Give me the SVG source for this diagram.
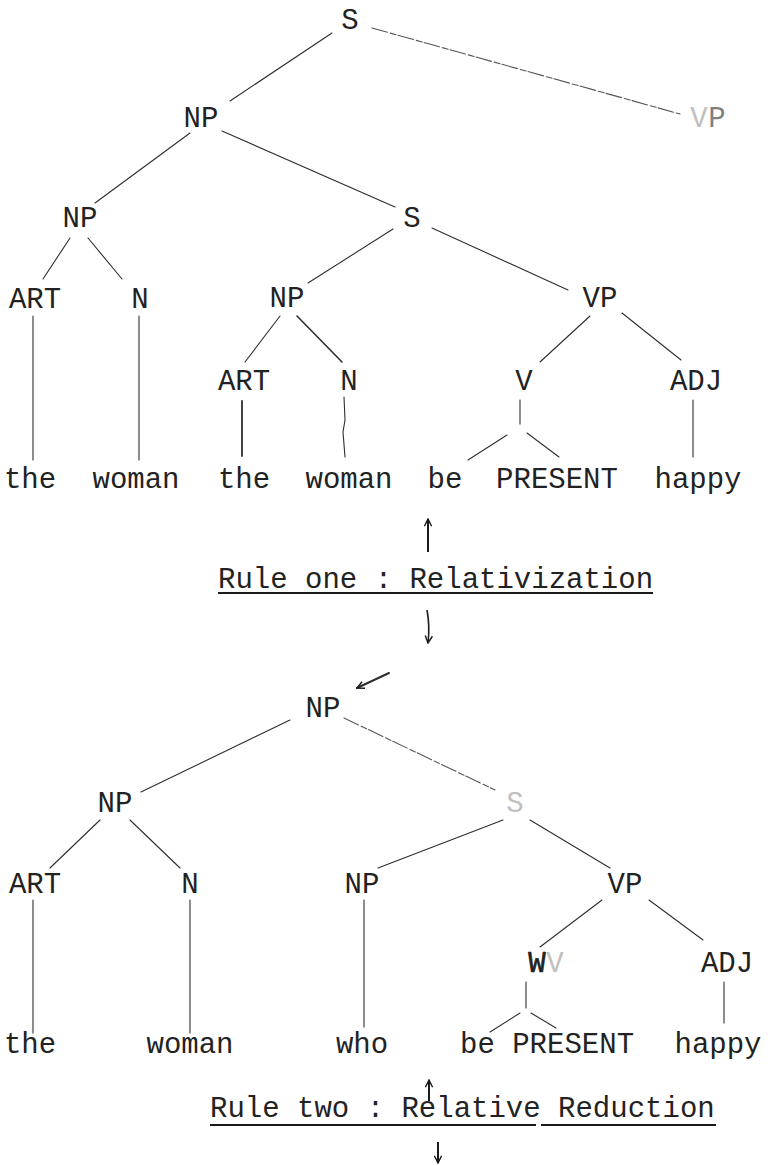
<svg xmlns="http://www.w3.org/2000/svg" width="773" height="1166" viewBox="0 0 773 1166">
  <defs>
    <style>
      text { font-family: "Liberation Mono", "DejaVu Sans Mono", monospace; font-size: 29px; fill: #222; text-anchor: middle; }
      text.start { text-anchor: start; }
      text.faint { fill: #c0c0c0; }
      text.mid { fill: #808080; }
      .edges line, .edges path { stroke: #2e2e2e; stroke-width: 1.1; fill: none; stroke-linecap: round; }
      .edges .light { stroke: #555; stroke-dasharray: 16 3 6 2; }
      .rule line { stroke: #1a1a1a; stroke-width: 2; }
      .arrow { stroke: #1a1a1a; stroke-width: 1.6; fill: none; }
    </style>
    <marker id="head" viewBox="0 0 10 10" refX="9" refY="5" markerWidth="9" markerHeight="9" orient="auto-start-reverse" markerUnits="userSpaceOnUse">
      <path d="M1,1 L9,5 L1,9" fill="none" stroke="#1a1a1a" stroke-width="1.6"/>
    </marker>
  </defs>
  <rect width="773" height="1166" fill="#ffffff"/>

  <!-- upper tree: connectors -->
  <g class="edges" id="edges-upper">
    <line x1="332" y1="33" x2="230" y2="101"/>
    <line class="light" x1="372" y1="28" x2="680" y2="114"/>
    <line x1="190" y1="133" x2="95" y2="203"/>
    <line x1="222" y1="131" x2="395" y2="207"/>
    <line x1="70" y1="238" x2="43" y2="279"/>
    <line x1="88" y1="238" x2="122" y2="279"/>
    <line x1="393" y1="229" x2="308" y2="283"/>
    <line x1="432" y1="228" x2="568" y2="290"/>
    <line x1="280" y1="316" x2="245" y2="362"/>
    <line x1="297" y1="316" x2="342" y2="362" style="stroke-width:1.6"/>
    <line x1="590" y1="316" x2="540" y2="362"/>
    <line x1="622" y1="313" x2="681" y2="360"/>
    <line x1="33" y1="316" x2="33" y2="460"/>
    <line x1="139" y1="316" x2="139" y2="460"/>
    <line x1="242" y1="401" x2="242" y2="456" style="stroke-width:1.8"/>
    <path d="M344,397 L345,420 L343,432 L345,457"/>
    <line x1="520" y1="400" x2="520" y2="424"/>
    <line x1="507" y1="435" x2="468" y2="460"/>
    <line x1="527" y1="433" x2="559" y2="457"/>
    <line x1="693" y1="400" x2="693" y2="457"/>
  </g>

  <!-- upper tree: nodes -->
  <g id="u-s"><text x="350" y="29">S</text></g>
  <g id="u-np"><text x="201" y="127">NP</text></g>
  <g id="u-vp"><text x="699" y="127" class="faint">V</text><text x="717" y="127" class="mid">P</text></g>
  <g id="u-np-np"><text x="80" y="227">NP</text></g>
  <g id="u-np-s"><text x="412" y="227">S</text></g>
  <g id="u-art1"><text x="35" y="308">ART</text></g>
  <g id="u-n1"><text x="140" y="308">N</text></g>
  <g id="u-np2"><text x="287" y="307">NP</text></g>
  <g id="u-vp2"><text x="600" y="307">VP</text></g>
  <g id="u-art2"><text x="244" y="390">ART</text></g>
  <g id="u-n2"><text x="349" y="390">N</text></g>
  <g id="u-v"><text x="524" y="390">V</text></g>
  <g id="u-adj"><text x="696" y="390">ADJ</text></g>
  <g id="u-words">
    <text x="30" y="488">the</text>
    <text x="136" y="488">woman</text>
    <text x="244" y="488">the</text>
    <text x="349" y="488">woman</text>
    <text x="445" y="488">be</text>
    <text x="557" y="488">PRESENT</text>
    <text x="698" y="488">happy</text>
  </g>

  <!-- first rule -->
  <g id="rule-one" class="rule">
    <line class="arrow" x1="428" y1="552" x2="428" y2="519" marker-end="url(#head)"/>
    <text class="start" x="218" y="588">Rule one : Relativization</text>
    <line x1="218" y1="593" x2="653" y2="593"/>
    <path class="arrow" d="M427,610 Q430,626 428,643" marker-end="url(#head)"/>
  </g>

  <!-- lower tree: connectors -->
  <g class="edges" id="edges-lower">
    <path d="M389,673 L357,688" style="stroke-width:2" marker-end="url(#head)"/>
    <line x1="290" y1="720" x2="141" y2="792"/>
    <line class="light" x1="344" y1="718" x2="495" y2="790"/>
    <line x1="100" y1="820" x2="50" y2="868"/>
    <line x1="130" y1="820" x2="180" y2="868"/>
    <line x1="503" y1="820" x2="378" y2="868"/>
    <line x1="530" y1="820" x2="610" y2="868"/>
    <line x1="602" y1="900" x2="540" y2="947"/>
    <line x1="649" y1="900" x2="703" y2="940"/>
    <line x1="33" y1="900" x2="33" y2="1033"/>
    <line x1="190" y1="900" x2="190" y2="1033"/>
    <line x1="364" y1="900" x2="364" y2="1027"/>
    <line x1="526" y1="982" x2="526" y2="1008"/>
    <line x1="520" y1="1013" x2="490" y2="1032"/>
    <line x1="531" y1="1013" x2="556" y2="1028"/>
    <line x1="724" y1="982" x2="724" y2="1023"/>
  </g>

  <!-- lower tree: nodes -->
  <g id="l-np"><text x="323" y="717">NP</text></g>
  <g id="l-np-np"><text x="115" y="812">NP</text></g>
  <g id="l-np-s"><text x="515" y="812" class="faint">S</text></g>
  <g id="l-art"><text x="35" y="893">ART</text></g>
  <g id="l-n"><text x="190" y="893">N</text></g>
  <g id="l-np2"><text x="362" y="893">NP</text></g>
  <g id="l-vp"><text x="625" y="893">VP</text></g>
  <g id="l-v"><text x="537" y="972" style="stroke:#222;stroke-width:0.6">W</text><text x="555" y="972" class="faint">V</text></g>
  <g id="l-adj"><text x="727" y="972">ADJ</text></g>
  <g id="l-words">
    <text x="30" y="1053">the</text>
    <text x="190" y="1053">woman</text>
    <text x="362" y="1053">who</text>
    <text class="start" x="460" y="1053">be PRESENT</text>
    <text x="718" y="1053">happy</text>
  </g>

  <!-- second rule -->
  <g id="rule-two" class="rule">
    <line class="arrow" x1="429" y1="1101" x2="429" y2="1080" marker-end="url(#head)"/>
    <text class="start" x="210" y="1117">Rule two : Relative Reduction</text>
    <line x1="210" y1="1125" x2="536" y2="1125"/>
    <line x1="541" y1="1125" x2="716" y2="1125"/>
    <line class="arrow" x1="438" y1="1142" x2="438" y2="1163" marker-end="url(#head)"/>
  </g>
</svg>
